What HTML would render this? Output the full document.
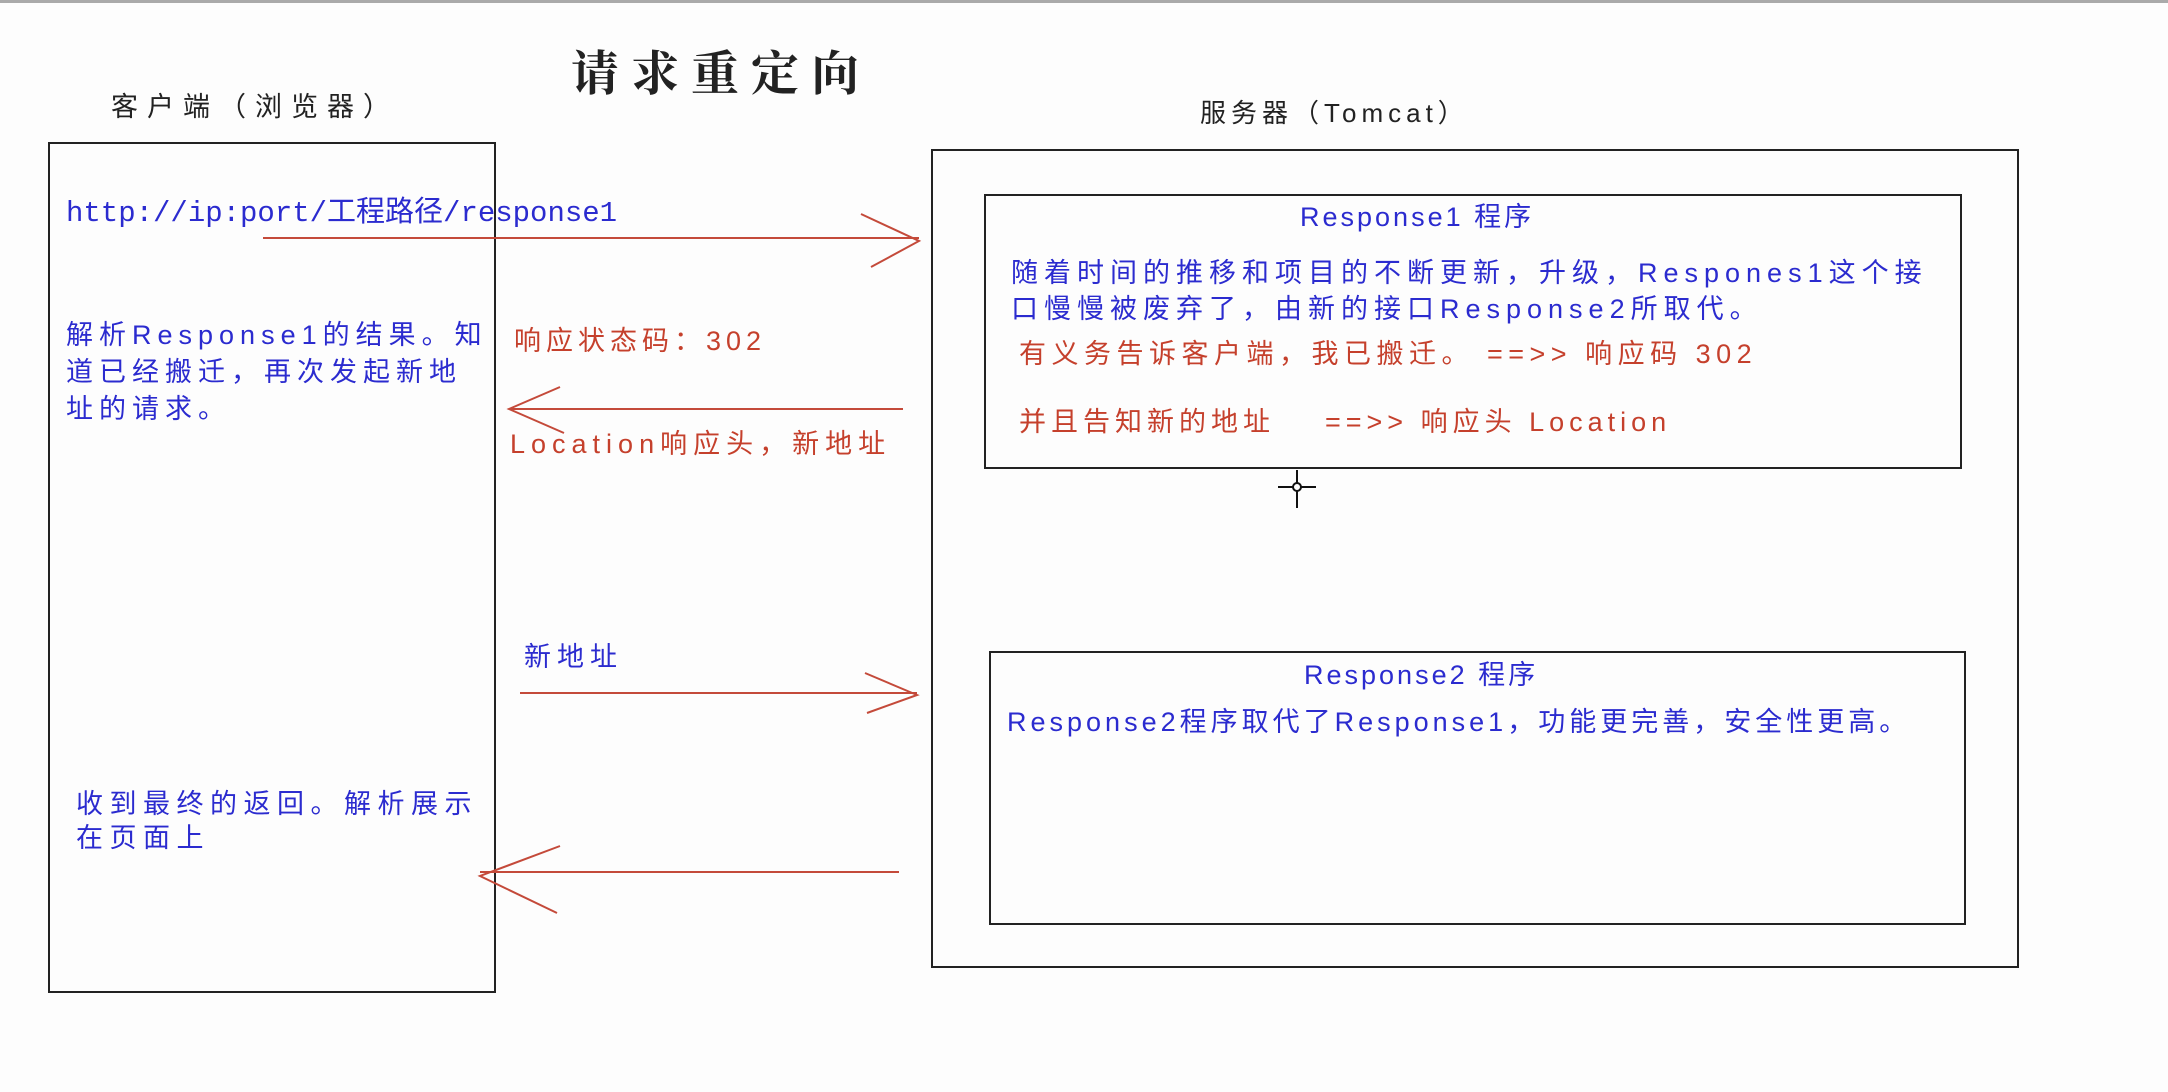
<!DOCTYPE html>
<html><head><meta charset="utf-8"><style>
html,body{margin:0;padding:0;background:#fdfdfd;}
body{width:2168px;height:1092px;position:relative;overflow:hidden;font-family:"Liberation Sans","Noto Sans CJK SC",sans-serif;}
.t{position:absolute;white-space:nowrap;font-size:27px;line-height:37px;}
.b{color:#2b2bcf;}
.r{color:#c5402c;}
.k{color:#222;}
.box{position:absolute;border:2px solid #222;box-sizing:border-box;}
</style></head><body>
<div style="position:absolute;left:0;top:0;width:2168px;height:3px;background:#aaa"></div>
<div class="t k" style="left:571px;top:40px;font-size:48px;line-height:60px;font-weight:bold;font-family:'Noto Serif CJK SC',serif;letter-spacing:12px">请求重定向</div>
<div class="t k" style="left:111px;top:89px;font-size:27px;letter-spacing:9px">客户端（浏览器）</div>
<div class="t k" style="left:1200px;top:95px;font-size:26px;letter-spacing:5px">服务器（Tomcat）</div>

<div class="box" style="left:48px;top:142px;width:448px;height:851px"></div>
<div class="box" style="left:931px;top:149px;width:1088px;height:819px"></div>
<div class="box" style="left:984px;top:194px;width:978px;height:275px"></div>
<div class="box" style="left:989px;top:651px;width:977px;height:274px"></div>

<div class="t b" style="left:66px;top:195px;font-family:'Liberation Mono','Noto Sans CJK SC',monospace;font-size:29px">http://ip:port/工程路径/response1</div>
<div class="t b" style="left:66px;top:317px;line-height:37px;letter-spacing:6px">解析Response1的结果。知<br>道已经搬迁，再次发起新地<br>址的请求。</div>
<div class="t r" style="left:514px;top:323px;letter-spacing:5px">响应状态码：302</div>
<div class="t r" style="left:510px;top:426px;letter-spacing:6px">Location响应头，新地址</div>
<div class="t b" style="left:524px;top:639px;letter-spacing:6px">新地址</div>
<div class="t b" style="left:76px;top:787px;line-height:34px;letter-spacing:6.5px">收到最终的返回。解析展示<br>在页面上</div>

<div class="t b" style="left:1300px;top:199px;letter-spacing:3px">Response1 程序</div>
<div class="t b" style="left:1011px;top:255px;line-height:36px;letter-spacing:6px">随着时间的推移和项目的不断更新，升级，Respones1这个接<br>口慢慢被废弃了，由新的接口Response2所取代。</div>
<div class="t r" style="left:1019px;top:336px;letter-spacing:5.5px">有义务告诉客户端，我已搬迁。 ==&gt;&gt; 响应码 302</div>
<div class="t r" style="left:1019px;top:404px;letter-spacing:5px">并且告知新的地址&nbsp;&nbsp;&nbsp; ==&gt;&gt; 响应头 Location</div>
<div class="t b" style="left:1304px;top:657px;letter-spacing:3px">Response2 程序</div>
<div class="t b" style="left:1007px;top:704px;letter-spacing:4px">Response2程序取代了Response1，功能更完善，安全性更高。</div>

<svg width="2168" height="1092" style="position:absolute;left:0;top:0" fill="none" stroke="#c44a3a" stroke-width="2">
<line x1="263" y1="238" x2="919" y2="238"/>
<polyline points="861,214 919,241 871,267"/>
<line x1="509" y1="409" x2="903" y2="409"/>
<polyline points="560,387 509,409 564,433"/>
<line x1="520" y1="693" x2="917" y2="693"/>
<polyline points="865,673 917,695 867,713"/>
<line x1="480" y1="872" x2="899" y2="872"/>
<polyline points="560,846 480,876 557,913"/>
<g stroke="#111" stroke-width="2">
<line x1="1297" y1="470" x2="1297" y2="508"/>
<line x1="1278" y1="487" x2="1316" y2="487"/>
<circle cx="1297" cy="487" r="4" fill="#fff"/>
</g>
</svg>
</body></html>
